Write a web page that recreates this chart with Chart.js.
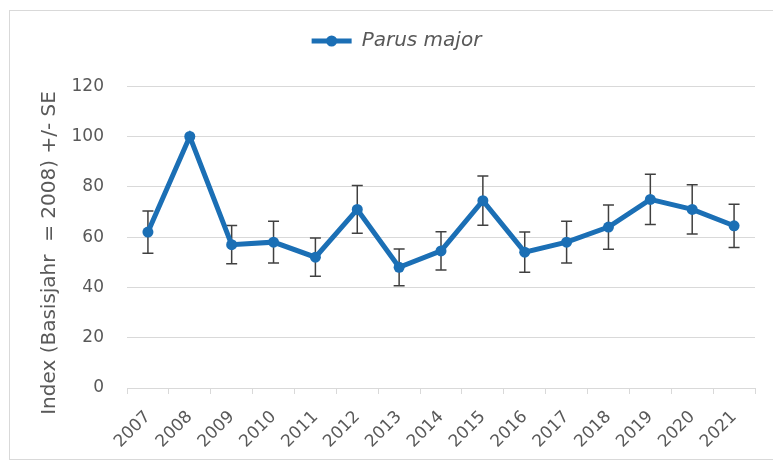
<!DOCTYPE html>
<html>
<head>
<meta charset="utf-8">
<script src="https://cdn.jsdelivr.net/npm/chart.js@4/dist/chart.umd.min.js"></script>
<style>
  html, body { margin: 0; padding: 0; background: #ffffff; }
  #wrap { position: relative; width: 773px; height: 465px; overflow: hidden; }
  #frame { position: absolute; left: 9px; top: 10px; width: 800px; height: 450px;
           border: 1px solid #d9d9d9; box-sizing: border-box; }
  canvas { position: absolute; left: 0; top: 0; }
</style>
</head>
<body>
<div id="wrap">
  <div id="frame"></div>
  <canvas id="c" width="773" height="465"></canvas>
</div>
<script>
// Jahresindex der Kohlmeise (Basisjahr 2008 = 100) mit Standardfehler
const years = ['2007','2008','2009','2010','2011','2012','2013','2014','2015','2016','2017','2018','2019','2020','2021'];
const indexValues = [62, 100, 57, 58, 52, 71, 48, 54.5, 74.5, 54, 58, 64, 75, 71, 64.5];
const standardErrors = [8.4, null, 7.6, 8.3, 7.6, 9.5, 7.3, 7.6, 9.8, 8, 8.3, 8.8, 10, 9.8, 8.6];
const yTicks = [0, 20, 40, 60, 80, 100, 120];

const seriesLabel = 'Parus major';
const axisTitle = 'Index (Basisjahr  = 2008) +/- SE';

const lineColor = '#1b6fb5';
const textColor = '#595959';
const gridColor = '#d9d9d9';
const fontFamily = "'DejaVu Sans', sans-serif";

// whiskers for +/- SE, drawn beneath the line
const errorBars = {
  id: 'errorBars',
  beforeDatasetsDraw(chart) {
    const ctx = chart.ctx;
    const xs = chart.scales.x, ys = chart.scales.y;
    ctx.save();
    ctx.strokeStyle = '#404040';
    ctx.lineWidth = 1.5;
    indexValues.forEach((v, i) => {
      const se = standardErrors[i];
      if (se == null) return;
      const x = xs.getPixelForValue(i);
      const yt = ys.getPixelForValue(v + se);
      const yb = ys.getPixelForValue(v - se);
      ctx.beginPath();
      ctx.moveTo(x, yt); ctx.lineTo(x, yb);
      ctx.moveTo(x - 5.5, yt); ctx.lineTo(x + 5.5, yt);
      ctx.moveTo(x - 5.5, yb); ctx.lineTo(x + 5.5, yb);
      ctx.stroke();
    });
    ctx.restore();
  }
};

// marker dot on the legend line sample
const legendDot = {
  id: 'legendDot',
  afterDraw(chart) {
    const lg = chart.legend;
    if (!lg || !lg.legendHitBoxes || !lg.legendHitBoxes.length) return;
    const hb = lg.legendHitBoxes[0];
    const bw = lg.options.labels.boxWidth;
    const ctx = chart.ctx;
    ctx.save();
    ctx.fillStyle = lineColor;
    ctx.beginPath();
    ctx.arc(hb.left + bw / 2, hb.top + hb.height / 2, 5.5, 0, Math.PI * 2);
    ctx.fill();
    ctx.restore();
  }
};

new Chart(document.getElementById('c'), {
  type: 'line',
  data: {
    labels: years,
    datasets: [{
      label: seriesLabel,
      data: indexValues,
      borderColor: lineColor,
      backgroundColor: lineColor,
      borderWidth: 5,
      pointRadius: 5.5,
      pointBorderWidth: 0,
      pointBackgroundColor: lineColor,
      tension: 0,
      fill: false
    }]
  },
  options: {
    responsive: false,
    animation: false,
    devicePixelRatio: 1,
    layout: { padding: { top: 21, right: 18, bottom: 0, left: 38 } },
    plugins: {
      legend: {
        position: 'top',
        labels: {
          color: textColor,
          boxWidth: 40,
          boxHeight: 5,
          padding: 10,
          font: { family: fontFamily, size: 20, style: 'italic' },
          generateLabels(chart) {
            const items = Chart.defaults.plugins.legend.labels.generateLabels(chart);
            items.forEach(it => { it.lineWidth = 0; it.fillStyle = lineColor; });
            return items;
          }
        }
      },
      title: {
        display: true,
        text: '',
        weight: 500,
        font: { size: 1 },
        padding: { top: 24, bottom: 0 }
      },
      tooltip: { enabled: false }
    },
    scales: {
      x: {
        offset: true,
        grid: {
          offset: true,
          drawOnChartArea: false,
          drawTicks: true,
          tickLength: 6,
          color: gridColor
        },
        border: { display: true, color: gridColor, width: 1 },
        ticks: {
          color: textColor,
          font: { family: fontFamily, size: 17 },
          minRotation: 45,
          maxRotation: 45,
          padding: 13,
          autoSkip: false
        },
        afterFit(s) { s.height = 77; }
      },
      y: {
        min: 0,
        max: 120,
        afterBuildTicks(s) { s.ticks = yTicks.map(v => ({ value: v })); },
        grid: { color: gridColor, drawTicks: false },
        border: { display: false },
        ticks: {
          color: textColor,
          font: { family: fontFamily, size: 17 },
          padding: 23
        },
        title: {
          display: true,
          text: axisTitle + '     ',
          color: textColor,
          font: { family: fontFamily, size: 20 },
          padding: { top: 0, bottom: 0 }
        },
        afterFit(s) { s.width = 89; }
      }
    }
  },
  plugins: [errorBars, legendDot]
});
</script>
</body>
</html>
